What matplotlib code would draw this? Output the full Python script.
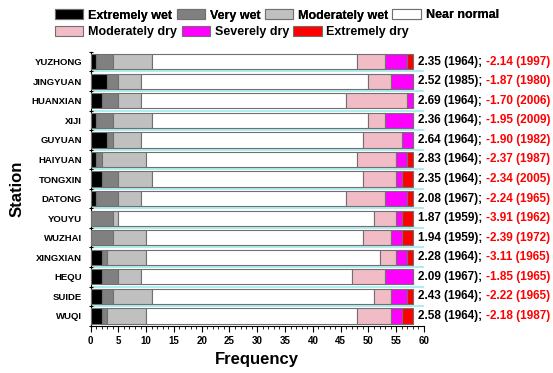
import matplotlib.pyplot as plt
import numpy as np
from matplotlib.patches import Patch
from matplotlib.ticker import MultipleLocator

plt.rcParams['font.family'] = ['Liberation Sans', 'DejaVu Sans']
plt.rcParams['font.weight'] = 'bold'

stations = ['YUZHONG', 'JINGYUAN', 'HUANXIAN', 'XIJI', 'GUYUAN', 'HAIYUAN', 'TONGXIN',
            'DATONG', 'YOUYU', 'WUZHAI', 'XINGXIAN', 'HEQU', 'SUIDE', 'WUQI']
classes = ['Extremely wet', 'Very wet', 'Moderately wet', 'Near normal',
           'Moderately dry', 'Severely dry', 'Extremely dry']
colors = ['#000000', '#808080', '#c0c0c0', '#ffffff', '#f2bcc6', '#ff00ff', '#ff0000']

# frequency (years) of each class per station
extremely_wet = [1, 3, 2, 1, 3, 1, 2, 1, 0, 0, 2, 2, 2, 2]
very_wet = [3, 2, 3, 3, 1, 1, 3, 4, 4, 4, 1, 3, 2, 1]
moderately_wet = [7, 4, 4, 7, 5, 8, 6, 4, 1, 6, 7, 4, 7, 7]
near_normal = [37, 41, 37, 39, 40, 38, 38, 37, 46, 39, 42, 38, 40, 38]
moderately_dry = [5, 4, 11, 3, 7, 7, 6, 7, 4, 5, 3, 6, 3, 6]
severely_dry = [4, 4, 1, 5, 2, 2, 1, 4, 1, 2, 2, 5, 3, 2]
extremely_dry = [1, 0, 0, 0, 0, 1, 2, 1, 2, 2, 1, 0, 1, 2]

max_val = ['2.35 (1964);', '2.52 (1985);', '2.69 (1964);', '2.36 (1964);', '2.64 (1964);',
           '2.83 (1964);', '2.35 (1964);', '2.08 (1967);', '1.87 (1959);', '1.94 (1959);',
           '2.28 (1964);', '2.09 (1967);', '2.43 (1964);', '2.58 (1964);']
min_val = ['-2.14 (1997)', '-1.87 (1980)', '-1.70 (2006)', '-1.95 (2009)', '-1.90 (1982)',
           '-2.37 (1987)', '-2.34 (2005)', '-2.24 (1965)', '-3.91 (1962)', '-2.39 (1972)',
           '-3.11 (1965)', '-1.85 (1965)', '-2.22 (1965)', '-2.18 (1987)']

series = [extremely_wet, very_wet, moderately_wet, near_normal,
          moderately_dry, severely_dry, extremely_dry]

fig = plt.figure(figsize=(5.53, 3.73), dpi=100)
ax = fig.add_axes([0.1637, 0.1247, 0.6030, 0.7362])

y = np.arange(len(stations))
left = np.zeros(len(stations))
for vals, c in zip(series, colors):
    ax.barh(y, vals, left=left, height=0.78, color=c, edgecolor='#707070', linewidth=0.8, zorder=3)
    left += np.array(vals)

# cyan separators between stations
for b in np.arange(0.5, len(stations) - 1, 1.0):
    ax.axhline(b, color='#a8ecf0', linewidth=1.3, zorder=1)

ax.set_xlim(0, 60)
ax.set_ylim(len(stations) - 0.46, -0.5)
ax.set_yticks(y)
ax.set_yticklabels(stations, fontsize=6.8, fontweight='bold')
ax.yaxis.set_minor_locator(MultipleLocator(1, offset=0.5))
ax.tick_params(axis='y', which='major', length=0, pad=6)
ax.tick_params(axis='y', which='minor', length=3, direction='inout', width=0.8)
ax.xaxis.set_major_locator(MultipleLocator(5))
ax.xaxis.set_minor_locator(MultipleLocator(1))
ax.tick_params(axis='x', which='major', length=4, width=0.8, labelsize=7, pad=3)
ax.tick_params(axis='x', which='minor', length=2, width=0.6)
for lab in ax.get_xticklabels():
    lab.set_fontweight('bold')

ax.spines['top'].set_visible(False)
ax.spines['right'].set_visible(False)
ax.spines['left'].set_linewidth(0.8)
ax.spines['bottom'].set_linewidth(0.8)

ax.set_xlabel('Frequency', fontsize=12, fontweight='bold', labelpad=4)
ax.set_ylabel('Station', fontsize=12, fontweight='bold', labelpad=5)

# annotations to the right of bars
for i in range(len(stations)):
    t = ax.text(58.9, i, max_val[i], fontsize=8.5, fontweight='bold', color='black',
                va='center', ha='left', clip_on=False)
    ax.annotate(min_val[i], xy=(1, 0), xycoords=t, xytext=(3, 0), textcoords='offset points',
                fontsize=8.5, fontweight='bold', color='red', va='bottom', ha='left')

handles = [Patch(facecolor=c, edgecolor='#707070', linewidth=0.8) for c in colors]
leg1 = fig.legend(handles[:4], classes[:4], loc='upper left', bbox_to_anchor=(55 / 553, 1 - 9 / 373),
                  ncol=4, frameon=False, fontsize=9, handlelength=2.25, handleheight=0.9,
                  handletextpad=0.4, columnspacing=0.35, borderpad=0, borderaxespad=0)
leg2 = fig.legend(handles[4:], classes[4:], loc='upper left', bbox_to_anchor=(55 / 553, 1 - 26 / 373),
                  ncol=3, frameon=False, fontsize=9, handlelength=2.25, handleheight=0.9,
                  handletextpad=0.4, columnspacing=0.35, borderpad=0, borderaxespad=0)
for leg in (leg1, leg2):
    for txt in leg.get_texts():
        txt.set_fontweight('bold')
fig.add_artist(leg1)

plt.savefig('out.png', dpi=100)
